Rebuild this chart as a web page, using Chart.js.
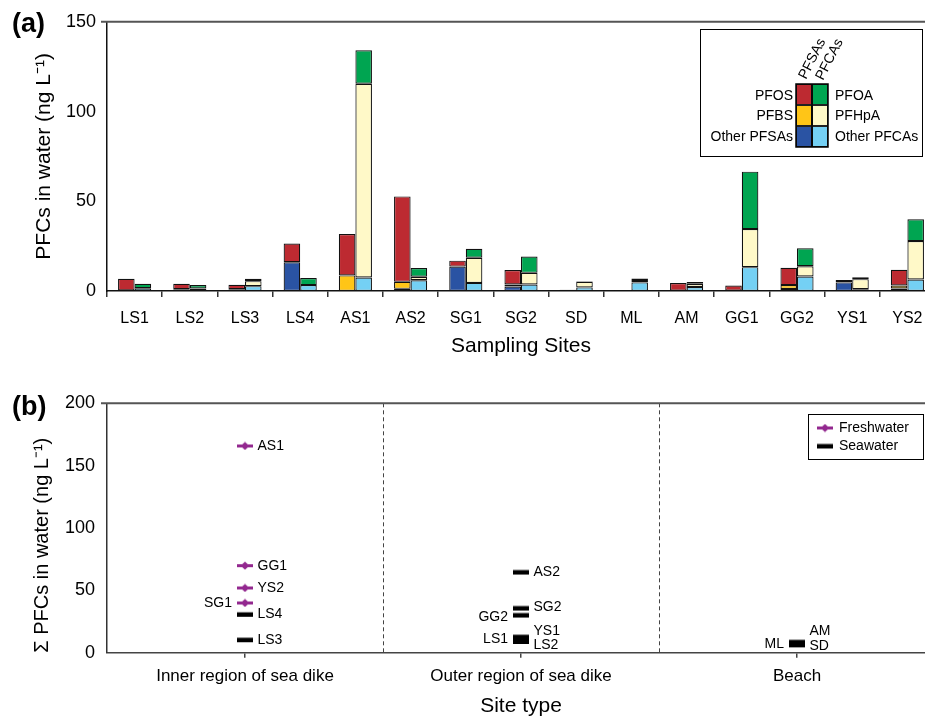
<!DOCTYPE html>
<html>
<head>
<meta charset="utf-8">
<title>PFCs in water</title>
<script src="https://cdn.jsdelivr.net/npm/chart.js@4.4.1/dist/chart.umd.min.js"></script>
<style>
  html, body { margin: 0; padding: 0; background: #fff; overflow: hidden; }
  #wrap { position: relative; width: 925px; height: 720px; overflow: hidden; }
  canvas { position: absolute; left: 0; }
  #chartA { top: 0; }
  #chartB { top: 380px; }
</style>
</head>
<body>
<div id="wrap">
  <canvas id="chartA" width="960" height="370"></canvas>
  <canvas id="chartB" width="960" height="340"></canvas>
</div>
<script>
// (a) composition per sampling site, ng/L
const sites = ['LS1', 'LS2', 'LS3', 'LS4', 'AS1', 'AS2', 'SG1', 'SG2', 'SD', 'ML', 'AM', 'GG1', 'GG2', 'YS1', 'YS2'];
const otherPFSAs = [0.3, 1.0, 1.0, 16.0, 0.0, 1.2, 13.6, 2.5, 0.3, 0.3, 0.2, 0.2, 1.1, 4.8, 1.4];
const pfbs       = [0, 0, 0, 0, 8.7, 3.9, 0, 1.1, 0, 0, 0, 0, 2.2, 0, 1.7];
const pfos       = [6.5, 3.0, 2.5, 10.5, 23.1, 47.6, 3.3, 8.1, 0.4, 0.2, 4.2, 2.8, 9.6, 1.3, 8.7];
const otherPFCAs = [1.5, 1.4, 2.7, 3.3, 7.5, 6.0, 4.5, 3.6, 2.0, 4.8, 2.2, 13.3, 8.1, 1.0, 6.4];
const pfhpa      = [0, 0, 2.8, 0, 108.0, 1.9, 14.0, 6.5, 3.1, 1.3, 1.8, 21.2, 5.7, 5.6, 21.4];
const pfoa       = [2.5, 1.9, 1.3, 3.9, 18.6, 4.9, 5.0, 9.1, 0.4, 0.9, 1.0, 32.0, 10.0, 1.1, 12.2];
const yTicksA = [0, 50, 100, 150];

// (b) total PFCs by site type
const siteTypes = ['Inner region of sea dike', 'Outer region of sea dike', 'Beach'];
const freshSites  = ['AS1', 'GG1', 'YS2', 'SG1'];
const freshType   = [0, 0, 0, 0];
const freshTotals = [165.8, 69.8, 51.9, 39.9];
const seaSites  = ['LS4', 'LS3', 'AS2', 'SG2', 'GG2', 'YS1', 'LS1', 'LS2', 'AM', 'SD', 'ML'];
const seaType   = [0, 0, 1, 1, 1, 1, 1, 1, 2, 2, 2];
const seaTotals = [30.8, 10.4, 64.7, 35.8, 30.2, 12.8, 10.8, 9.0, 8.7, 6.3, 7.5];
const yTicksB = [0, 50, 100, 150, 200];

// where each site name sits next to its marker
const freshLabelSide  = ['r', 'r', 'r', 'l'];
const freshLabelNudge = [0, 0, 0, 0];
const seaLabelSide  = ['r', 'r', 'r', 'r', 'l', 'r', 'l', 'r', 'r', 'r', 'l'];
const seaLabelNudge = [0, 0, 0, -1, 2, -6, 0, 4, -11, 1, 1];

const FONT = '"Liberation Sans", Arial, Helvetica, sans-serif';
Chart.defaults.font.family = FONT;
Chart.defaults.color = '#000';

// horizontal dash markers used for the site totals
function dashMarker(color, withDiamond) {
    const c = document.createElement('canvas');
    c.width = 18;
    c.height = 9;
    const g = c.getContext('2d');
    g.fillStyle = color;
    if (withDiamond) {
        g.fillRect(1, 3, 16, 3);
        g.beginPath();
        g.moveTo(9, 0.5);
        g.lineTo(13.5, 4.5);
        g.lineTo(9, 8.5);
        g.lineTo(4.5, 4.5);
        g.closePath();
        g.fill();
    } else {
        g.fillRect(1, 2.5, 16, 4.5);
    }
    return c;
}
const freshMarker = dashMarker('#93288f', true);
const seaMarker = dashMarker('#000', false);

// "(a)" / "(b)" tag plus the grey frame line along the top of the plot
const panelFrame = {
    id: 'panelFrame',
    afterDraw(chart, args, opts) {
        const { ctx, chartArea } = chart;
        ctx.save();
        ctx.strokeStyle = '#555';
        ctx.lineWidth = 2;
        ctx.beginPath();
        ctx.moveTo(chartArea.left - 6, chartArea.top);
        ctx.lineTo(chartArea.right, chartArea.top);
        ctx.stroke();
        ctx.font = 'bold 27px ' + FONT;
        ctx.fillStyle = '#000';
        ctx.textAlign = 'left';
        ctx.textBaseline = 'middle';
        ctx.fillText(opts.text, 12, opts.y);
        ctx.restore();
    }
};

// two-column key: PFSAs on the left, PFCAs on the right
const compositionKey = {
    id: 'compositionKey',
    afterDraw(chart) {
        const ctx = chart.ctx;
        const ds = chart.data.datasets;
        const rows = [[2, 5], [1, 4], [0, 3]];
        const colX = [796, 812];
        const rowY = [84, 105, 126];
        const textY = [96.5, 116.5, 137];
        ctx.save();
        ctx.fillStyle = '#fff';
        ctx.fillRect(700, 29, 223, 128);
        ctx.strokeStyle = '#000';
        ctx.lineWidth = 1;
        ctx.strokeRect(700.5, 29.5, 222, 127);
        ctx.font = '14px ' + FONT;
        ctx.textBaseline = 'middle';
        rows.forEach((pair, r) => {
            pair.forEach((di, c) => {
                ctx.fillStyle = ds[di].backgroundColor;
                ctx.fillRect(colX[c], rowY[r], 16, 21);
                ctx.strokeStyle = '#222';
                ctx.lineWidth = 1;
                ctx.strokeRect(colX[c] + 0.5, rowY[r] + 0.5, 15, 20);
            });
            ctx.fillStyle = '#000';
            ctx.textAlign = 'right';
            ctx.fillText(ds[pair[0]].label, 793, textY[r]);
            ctx.textAlign = 'left';
            ctx.fillText(ds[pair[1]].label, 835, textY[r]);
        });
        ctx.strokeStyle = '#000';
        ctx.lineWidth = 1.5;
        ctx.strokeRect(796, 84, 32, 63);
        ctx.beginPath();
        ctx.moveTo(812, 84);
        ctx.lineTo(812, 147);
        ctx.stroke();
        // slanted group headers
        ctx.font = '14px ' + FONT;
        ctx.fillStyle = '#000';
        ctx.textAlign = 'left';
        ctx.textBaseline = 'alphabetic';
        [['PFSAs', 806, 80], ['PFCAs', 823, 81]].forEach(([t, x, y]) => {
            ctx.save();
            ctx.translate(x, y);
            ctx.rotate(-63 * Math.PI / 180);
            ctx.fillText(t, 0, 0);
            ctx.restore();
        });
        ctx.restore();
    }
};

// dashed separators between site types, site names and the water-type key
const siteTypeDecor = {
    id: 'siteTypeDecor',
    beforeDatasetsDraw(chart) {
        const { ctx, chartArea } = chart;
        const xs = chart.scales.x;
        ctx.save();
        ctx.strokeStyle = '#444';
        ctx.lineWidth = 1;
        ctx.setLineDash([4, 3]);
        for (let i = 0; i < siteTypes.length - 1; i++) {
            const x = Math.round((xs.getPixelForValue(i) + xs.getPixelForValue(i + 1)) / 2) + 0.5;
            ctx.beginPath();
            ctx.moveTo(x, chartArea.top);
            ctx.lineTo(x, chartArea.bottom);
            ctx.stroke();
        }
        ctx.restore();
    },
    afterDraw(chart) {
        const ctx = chart.ctx;
        ctx.save();
        ctx.font = '14px ' + FONT;
        ctx.fillStyle = '#000';
        ctx.textBaseline = 'middle';
        chart.data.datasets.forEach((ds, di) => {
            chart.getDatasetMeta(di).data.forEach((pt, i) => {
                const left = ds.labelSide[i] === 'l';
                ctx.textAlign = left ? 'right' : 'left';
                ctx.fillText(ds.siteNames[i], pt.x + (left ? -13 : 12.5), pt.y + ds.labelNudge[i]);
            });
        });
        // key box
        ctx.fillStyle = '#fff';
        ctx.fillRect(808, 34, 116, 46);
        ctx.strokeStyle = '#000';
        ctx.lineWidth = 1;
        ctx.strokeRect(808.5, 34.5, 115, 45);
        ctx.textAlign = 'left';
        chart.data.datasets.forEach((ds, di) => {
            const y = 48 + di * 18;
            const m = ds.pointStyle;
            ctx.drawImage(m, 825 - m.width / 2, y - m.height / 2);
            ctx.fillStyle = '#000';
            ctx.fillText(ds.label, 839, y);
        });
        ctx.restore();
    }
};

new Chart(document.getElementById('chartA'), {
    type: 'bar',
    data: {
        labels: sites,
        datasets: [
            { label: 'Other PFSAs', data: otherPFSAs, backgroundColor: '#2a53a3', stack: 'PFSAs' },
            { label: 'PFBS', data: pfbs, backgroundColor: '#ffc517', stack: 'PFSAs' },
            { label: 'PFOS', data: pfos, backgroundColor: '#bd2a31', stack: 'PFSAs' },
            { label: 'Other PFCAs', data: otherPFCAs, backgroundColor: '#74d0f4', stack: 'PFCAs' },
            { label: 'PFHpA', data: pfhpa, backgroundColor: '#fff9c8', stack: 'PFCAs' },
            { label: 'PFOA', data: pfoa, backgroundColor: '#00a551', stack: 'PFCAs' }
        ]
    },
    options: {
        responsive: false,
        animation: false,
        layout: { padding: { top: 20, right: 25, left: 0, bottom: 0 } },
        datasets: {
            bar: {
                borderColor: '#111',
                borderWidth: 1.2,
                borderSkipped: false,
                categoryPercentage: 0.6,
                barPercentage: 1.0
            }
        },
        plugins: {
            legend: { display: false },
            tooltip: { enabled: false },
            panelFrame: { text: '(a)', y: 25 }
        },
        scales: {
            x: {
                stacked: true,
                grid: { offset: true, drawOnChartArea: false, tickLength: 6, color: '#333', lineWidth: 1.5 },
                border: { color: '#111', width: 1.5 },
                ticks: { color: '#000', font: { size: 16 }, padding: 11.5, autoSkip: false, maxRotation: 0 },
                title: {
                    display: true,
                    text: 'Sampling Sites',
                    color: '#000',
                    font: { size: 21 },
                    padding: { top: 0, bottom: 11 }
                },
                afterFit: s => { s.height = 79; }
            },
            y: {
                stacked: true,
                min: 0,
                max: 150,
                afterBuildTicks: s => { s.ticks = yTicksA.map(v => ({ value: v })); },
                grid: { display: false, drawTicks: false },
                border: { color: '#111', width: 1.5 },
                ticks: { color: '#000', font: { size: 18 }, padding: 11 },
                title: {
                    display: true,
                    text: 'PFCs in water (ng L⁻¹)',
                    color: '#000',
                    font: { size: 21 },
                    padding: { top: 32, bottom: 0 }
                },
                afterFit: s => { s.width = 107; }
            }
        }
    },
    plugins: [panelFrame, compositionKey]
});

new Chart(document.getElementById('chartB'), {
    type: 'scatter',
    data: {
        labels: siteTypes,
        datasets: [
            {
                label: 'Freshwater',
                data: freshTotals.map((v, i) => ({ x: siteTypes[freshType[i]], y: v })),
                pointStyle: freshMarker,
                siteNames: freshSites,
                labelSide: freshLabelSide,
                labelNudge: freshLabelNudge
            },
            {
                label: 'Seawater',
                data: seaTotals.map((v, i) => ({ x: siteTypes[seaType[i]], y: v })),
                pointStyle: seaMarker,
                siteNames: seaSites,
                labelSide: seaLabelSide,
                labelNudge: seaLabelNudge
            }
        ]
    },
    options: {
        responsive: false,
        animation: false,
        layout: { padding: { top: 23.3, right: 25, left: 0, bottom: 0 } },
        plugins: {
            legend: { display: false },
            tooltip: { enabled: false },
            panelFrame: { text: '(b)', y: 28 }
        },
        scales: {
            x: {
                type: 'category',
                offset: true,
                grid: { offset: false, drawOnChartArea: false, tickLength: 5, color: '#444', lineWidth: 1.5 },
                border: { color: '#444', width: 1.5 },
                ticks: { color: '#000', font: { size: 17 }, padding: 8, autoSkip: false, maxRotation: 0 },
                title: {
                    display: true,
                    text: 'Site type',
                    color: '#000',
                    font: { size: 21 },
                    padding: { top: 0, bottom: 1 }
                },
                afterFit: s => { s.height = 67.3; }
            },
            y: {
                min: 0,
                max: 200,
                afterBuildTicks: s => { s.ticks = yTicksB.map(v => ({ value: v })); },
                grid: { display: false, drawTicks: false },
                border: { color: '#333', width: 1.5 },
                ticks: { color: '#000', font: { size: 18 }, padding: 12 },
                title: {
                    display: true,
                    text: 'Σ PFCs in water (ng L⁻¹)',
                    align: 'start',
                    color: '#000',
                    font: { size: 20 },
                    padding: { top: 30.5, bottom: 0 }
                },
                afterFit: s => { s.width = 107; }
            }
        }
    },
    plugins: [panelFrame, siteTypeDecor]
});
</script>
</body>
</html>
